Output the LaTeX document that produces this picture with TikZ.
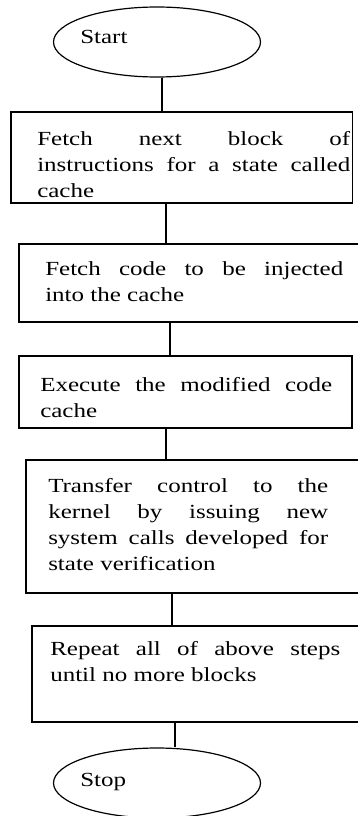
\documentclass[tikz,border=0pt]{standalone}
\usepackage{fontspec}
\setmainfont{Liberation Serif}
\usetikzlibrary{shapes.geometric}

\tikzset{
  term/.style={draw, ellipse, line width=1.2pt, minimum width=207pt, minimum height=70pt, inner sep=0pt},
  stepbox/.style={draw, rectangle, line width=1.2pt, inner sep=0pt},
  steptext/.style={anchor=north west, inner sep=0pt, align=justify, xscale=1.25, font=\fontsize{20}{26}\selectfont},
  termtext/.style={anchor=base west, inner sep=0pt, xscale=1.25, font=\fontsize{20}{26}\selectfont},
  flow/.style={line width=1.2pt}
}

\begin{document}
\begin{tikzpicture}[x=1pt,y=-1pt]
\useasboundingbox (0,0) rectangle (357,816);
% terminals
\node[term] (start) at (157,42) {};
\node[termtext] (starttxt) at (80,44) {Start};
\node[term] (stop) at (157,783) {};
\node[termtext] (stoptxt) at (80,786) {Stop};
% process boxes
\node[stepbox, minimum width=341.7pt, minimum height=91pt] (fetchblock) at (181.9,157.5) {};
\node[steptext, text width=250.4pt] (fetchblocktxt) at (37,131.3)
  {Fetch next block of\linebreak instructions for a state called\linebreak cache};
\node[stepbox, minimum width=351pt, minimum height=78pt] (fetchcode) at (194.5,283) {};
\node[steptext, text width=238.4pt] (fetchcodetxt) at (45,261.3)
  {Fetch code to be injected\linebreak into the cache};
\node[stepbox, minimum width=333pt, minimum height=72pt] (execute) at (185.5,392) {};
\node[steptext, text width=233.6pt] (executetxt) at (40,377.3)
  {Execute the modified code\linebreak cache};
\node[stepbox, minimum width=344pt, minimum height=133pt] (transfer) at (198,526.5) {};
\node[steptext, text width=224pt] (transfertxt) at (48,478.3)
  {Transfer control to the\linebreak kernel by issuing new\linebreak system calls developed for\linebreak state verification};
\node[stepbox, minimum width=338pt, minimum height=96pt] (repeat) at (201,674) {};
\node[steptext, text width=232pt] (repeattxt) at (50,641.3)
  {Repeat all of above steps\linebreak until no more blocks};
% connectors
\draw[flow] ([xshift=5pt]start.south) -- ([xshift=5pt]start.south |- fetchblock.north);
\draw[flow] ([xshift=-16pt]fetchblock.south) -- ([xshift=-16pt]fetchblock.south |- fetchcode.north);
\draw[flow] ([xshift=-24.5pt]fetchcode.south) -- ([xshift=-24.5pt]fetchcode.south |- execute.north);
\draw[flow] ([xshift=-19.5pt]execute.south) -- ([xshift=-19.5pt]execute.south |- transfer.north);
\draw[flow] ([xshift=-26pt]transfer.south) -- ([xshift=-26pt]transfer.south |- repeat.north);
\draw[flow] ([xshift=-26pt]repeat.south) -- ([xshift=-26pt]repeat.south |- stop.north);
\end{tikzpicture}
\end{document}
